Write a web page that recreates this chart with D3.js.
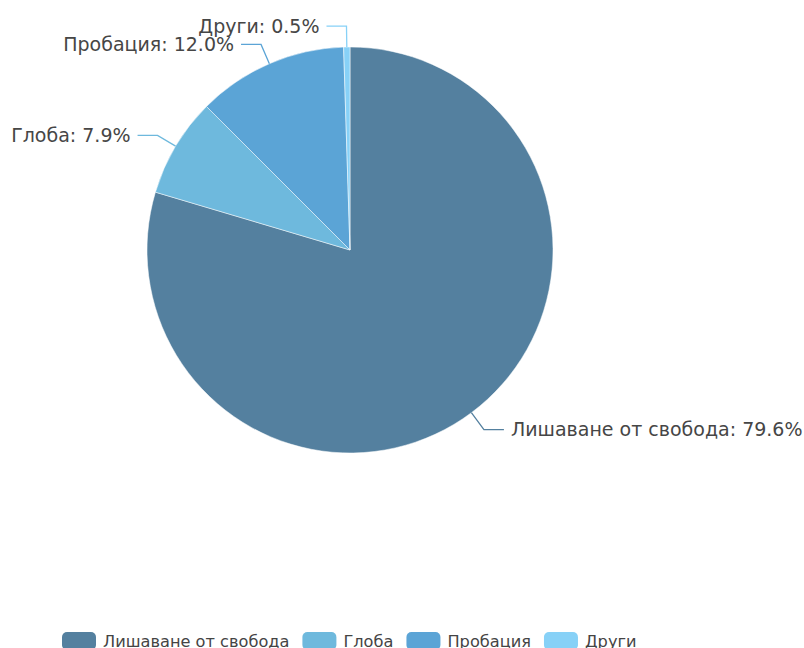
<!DOCTYPE html>
<html>
<head>
<meta charset="utf-8">
<script src="https://cdn.jsdelivr.net/npm/d3@7"></script>
<style>
  body { margin: 0; background: #fff; }
  svg { display: block; font-family: "DejaVu Sans", sans-serif; }
</style>
</head>
<body>
<svg id="chart" width="804" height="648"></svg>
<script>
const categories = ["Лишаване от свобода", "Глоба", "Пробация", "Други"];
const shares = [79.6, 7.9, 12.0, 0.5];
const colors = ["#54809f", "#6eb9dd", "#5ba4d6", "#87d1f7"];

const cx = 350, cy = 250, radius = 203;
const svg = d3.select("#chart");

const pie = d3.pie().sort(null).value(d => d.value);
const arcs = pie(categories.map((c, i) => ({ name: c, value: shares[i], color: colors[i] })));

const arc = d3.arc().innerRadius(0).outerRadius(radius);

const g = svg.append("g").attr("transform", `translate(${cx},${cy})`);

g.selectAll("path.slice")
  .data(arcs)
  .enter()
  .append("path")
  .attr("class", "slice")
  .attr("d", arc)
  .attr("fill", d => d.data.color)
  .attr("stroke", "#fff")
  .attr("stroke-width", 0.5);

// label lines: radial segment then horizontal one
const len1 = 21, len2 = 20, gap = 7;
arcs.forEach(d => {
  const a = (d.startAngle + d.endAngle) / 2;
  const sx = Math.sin(a), sy = -Math.cos(a);
  const p0 = [radius * sx, radius * sy];
  const p1 = [(radius + len1) * sx, (radius + len1) * sy];
  const right = sx >= 0;
  const p2 = [p1[0] + (right ? len2 : -len2), p1[1]];

  g.append("path")
    .attr("d", d3.line()([p0, p1, p2]))
    .attr("fill", "none")
    .attr("stroke", d.data.color)
    .attr("stroke-width", 1.3);

  g.append("text")
    .attr("x", p2[0] + (right ? gap : -gap))
    .attr("y", p2[1])
    .attr("dy", "0.35em")
    .attr("text-anchor", right ? "start" : "end")
    .attr("font-size", 19)
    .attr("fill", "#464646")
    .text(`${d.data.name}: ${d.data.value.toFixed(1)}%`);
});

// legend
const legend = svg.append("g").attr("transform", "translate(0,632)");
let lx = 62;
categories.forEach((c, i) => {
  const item = legend.append("g").attr("transform", `translate(${lx},0)`);
  item.append("rect")
    .attr("width", 34).attr("height", 18).attr("rx", 5)
    .attr("fill", colors[i]);
  const t = item.append("text")
    .attr("x", 41).attr("y", 9).attr("dy", "0.35em")
    .attr("font-size", 16.2).attr("fill", "#444")
    .text(c);
  lx += 41 + t.node().getComputedTextLength() + 13;
});
</script>
</body>
</html>
